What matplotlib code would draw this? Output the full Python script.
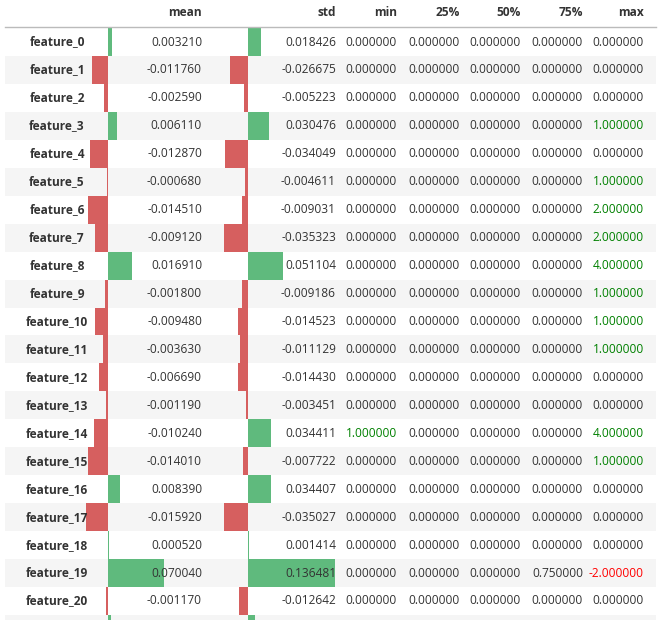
import matplotlib.pyplot as plt

features = [f"feature_{i}" for i in range(22)]
mean = [0.00321, -0.01176, -0.00259, 0.00611, -0.01287, -0.00068, -0.01451, -0.00912, 0.01691,
        -0.0018, -0.00948, -0.00363, -0.00669, -0.00119, -0.01024, -0.01401, 0.00839, -0.01592,
        0.00052, 0.07004, -0.00117, 0.002]
std = [0.018426, -0.026675, -0.005223, 0.030476, -0.034049, -0.004611, -0.009031, -0.035323,
       0.051104, -0.009186, -0.014523, -0.011129, -0.01443, -0.003451, 0.034411, -0.007722,
       0.034407, -0.035027, 0.001414, 0.136481, -0.012642, 0.01]
vmin = [0.0] * 14 + [1.0] + [0.0] * 7
p25 = [0.0] * 22
p50 = [0.0] * 22
p75 = [0.0] * 19 + [0.75] + [0.0] * 2
vmax = [0, 0, 0, 1, 0, 1, 2, 2, 4, 1, 1, 1, 0, 0, 4, 1, 0, 0, 0, -2, 0, 0]
columns = ["mean", "std", "min", "25%", "50%", "75%", "max"]

GREEN = "#5fba7d"
RED = "#d65f5f"
TXT = "#333333"

fig = plt.figure(figsize=(6.62, 6.2), dpi=100)
ax = fig.add_axes([0, 0, 1, 1])
ax.set_xlim(0, 662)
ax.set_ylim(620, 0)
ax.axis("off")

font = dict(family=["Open Sans", "DejaVu Sans"], fontsize=8.6)
row_h = 27.95
y0 = 42
right = [202, 336, 397, 460, 521, 583, 644]

# header
for c, x in zip(columns, right):
    ax.text(x, 13, c, ha="right", va="center", fontweight="bold", color=TXT, **font)
ax.plot([5, 656], [26.5, 26.5], color="#bbbbbb", lw=1)

# bar settings per column: zero position, px per unit, max positive width
bar_cfg = {"mean": (108, 1400, 56), "std": (248, 680, 87)}

for i, name in enumerate(features):
    yc = y0 + i * row_h
    if i % 2 == 1:
        ax.add_patch(plt.Rectangle((5, yc - row_h / 2), 651, row_h, color="#f5f5f5", lw=0))
    for col, vals in (("mean", mean), ("std", std)):
        z, k, cap = bar_cfg[col]
        w = min(vals[i] * k, cap)
        if abs(w) < 1:
            w = 1 if w >= 0 else -1
        ax.add_patch(plt.Rectangle((z, yc - row_h / 2), w, row_h,
                                   color=GREEN if vals[i] >= 0 else RED, lw=0))
    if yc > 615:
        continue  # last row is only partly visible, its text lies below the edge
    ax.text(57, yc, name, ha="center", va="center", fontweight="bold", color=TXT, **font)
    ax.text(right[0], yc, f"{mean[i]:.6f}", ha="right", va="center", color=TXT, **font)
    ax.text(right[1], yc, f"{std[i]:.6f}", ha="right", va="center", color=TXT, **font)
    for j, vals in enumerate([vmin, p25, p50, p75, vmax]):
        v = vals[i]
        col = TXT
        if j in (0, 4):
            col = "#008000" if v > 0 else ("#ff0000" if v < 0 else TXT)
        ax.text(right[2 + j], yc, f"{v:.6f}", ha="right", va="center", color=col, **font)

fig.savefig("out.png", dpi=100)
